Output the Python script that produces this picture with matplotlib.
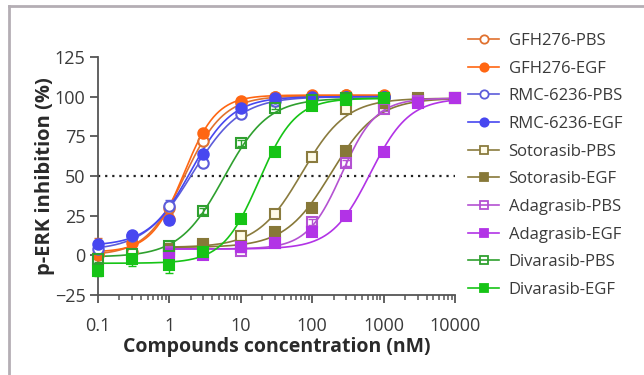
import numpy as np
import matplotlib
matplotlib.use('Agg')
import matplotlib.pyplot as plt
from matplotlib.lines import Line2D

plt.rcParams['font.family'] = ['Open Sans', 'DejaVu Sans']

# concentrations (nM)
conc_low = [0.1, 0.3, 1, 3, 10, 30, 100, 300, 1000]
conc_high = [1, 3, 10, 30, 100, 300, 1000, 3000, 10000]

labels = ['GFH276-PBS', 'GFH276-EGF', 'RMC-6236-PBS', 'RMC-6236-EGF',
          'Sotorasib-PBS', 'Sotorasib-EGF', 'Adagrasib-PBS', 'Adagrasib-EGF',
          'Divarasib-PBS', 'Divarasib-EGF']

gfh_pbs = [0, 2, 30, 72, 96, 100, 100, 101, 100]
gfh_egf = [1, 8, 23, 77, 97, 100, 101, 101, 101]
rmc_pbs = [4, 12, 31, 58, 89, 97, 99, 100, 100]
rmc_egf = [7, 13, 22, 64, 93, 99, 100, 100, 100]
sot_pbs = [3, 6, 12, 26, 62, 92, 97, 99, 99]
sot_egf = [4, 7, 6, 15, 30, 66, 96, 98, 99]
ada_pbs = [2, 1, 3, 8, 21, 58, 92, 97, 99]
ada_egf = [1, 0, 5, 8, 15, 25, 65, 96, 99]
div_pbs = [-2, 1, 6, 28, 71, 93, 98, 99, 99]
div_egf = [-10, -2, -6, 2, 23, 65, 94, 98, 99]

# small error bars (SD)
gfh_pbs_err = [11, 3, 2, 2, 1, 1, 1, 1, 1]
gfh_egf_err = [3, 2, 3, 2, 1, 1, 1, 1, 1]
rmc_pbs_err = [2, 2, 4, 2, 1, 1, 1, 1, 1]
rmc_egf_err = [2, 2, 2, 2, 1, 1, 1, 1, 1]
sot_pbs_err = [1, 1, 2, 2, 2, 1, 1, 1, 1]
sot_egf_err = [1, 1, 1, 1, 1, 1, 1, 1, 1]
ada_pbs_err = [1, 1, 1, 1, 2, 2, 1, 1, 1]
ada_egf_err = [1, 1, 1, 1, 1, 1, 1, 1, 1]
div_pbs_err = [2, 2, 2, 2, 2, 1, 1, 1, 1]
div_egf_err = [3, 5, 5, 2, 2, 1, 1, 1, 1]

# 4PL fit parameters: bottom, top, IC50 (nM), hill
fit_bottom = [0, 2, 3, 6, 5, 5, 4, 4, -1, -5]
fit_top = [100.5, 101, 100, 100, 99, 99, 99, 99, 99, 99]
fit_ic50 = [1.65, 1.6, 2.1, 2.0, 72, 185, 260, 650, 5.8, 18]
fit_hill = [1.6, 1.9, 1.3, 1.5, 1.4, 1.35, 1.8, 1.6, 1.4, 1.7]

colors = ['#E0712F', '#FF6612', '#5C5CDA', '#4747F0', '#8A7B3E',
          '#877838', '#B452D2', '#B233E6', '#2FA02F', '#16C416']
faces = ['white', '#FF6612', 'white', '#4747F0', '#FFFBE8',
         '#877838', 'none', '#B233E6', 'none', '#16C416']
markers = ['o', 'o', 'o', 'o', 's', 's', 's', 's', 's', 's']

values = [gfh_pbs, gfh_egf, rmc_pbs, rmc_egf, sot_pbs, sot_egf,
          ada_pbs, ada_egf, div_pbs, div_egf]
errors = [gfh_pbs_err, gfh_egf_err, rmc_pbs_err, rmc_egf_err, sot_pbs_err,
          sot_egf_err, ada_pbs_err, ada_egf_err, div_pbs_err, div_egf_err]
concs = [conc_low] * 4 + [conc_high] * 4 + [conc_low] * 2


def four_pl(x, bottom, top, ic50, hill):
    '''
    Fitted dose-response curve.
    '''
    return bottom + (top - bottom) / (1 + (ic50 / x) ** hill)


fig = plt.figure(figsize=(6.44, 3.75), dpi=100)
ax = fig.add_axes([0.152, 0.2133, 0.5545, 0.6347])

tick_col = '#3a3a3a'
handles = []
for i in range(len(labels)):
    c = concs[i]
    xs = np.logspace(np.log10(c[0]), np.log10(c[-1]), 300)
    ax.plot(xs, four_pl(xs, fit_bottom[i], fit_top[i], fit_ic50[i], fit_hill[i]),
            color=colors[i], lw=1.2, zorder=2, clip_on=False)
    ax.errorbar(c, values[i], yerr=errors[i], fmt='none', ecolor=colors[i],
                elinewidth=1, capsize=3, zorder=3, clip_on=False)
    ms = 7.5 if markers[i] == 'o' else 7
    ax.plot(c, values[i], linestyle='none', marker=markers[i], ms=ms,
            mfc=faces[i], mec=colors[i], mew=1.5, zorder=4, clip_on=False)
    handles.append(Line2D([], [], color=colors[i], lw=1.2, marker=markers[i],
                          ms=6, mfc=faces[i], mec=colors[i], mew=1.3))

ax.plot([0.1, 10000], [50, 50], linestyle=(0, (1, 2.2)), color='#222222', lw=1.6, zorder=1)

ax.set_xscale('log')
ax.set_xlim(0.1, 10000)
ax.set_ylim(-25, 125)
ax.set_yticks([-25, 0, 25, 50, 75, 100, 125])
ax.set_xticks([0.1, 1, 10, 100, 1000, 10000])
ax.set_xticklabels(['0.1', '1', '10', '100', '1000', '10000'])

for s in ['top', 'right']:
    ax.spines[s].set_visible(False)
for s in ['left', 'bottom']:
    ax.spines[s].set_color('#555555')
    ax.spines[s].set_linewidth(1.3)

ax.tick_params(which='major', length=6, width=1.3, color='#555555',
               labelsize=13, labelcolor=tick_col, pad=3)
ax.tick_params(which='minor', length=3.5, width=1.1, color='#555555')
ax.tick_params(axis='x', which='major', pad=10)

ax.set_xlabel('Compounds concentration (nM)', fontsize=14, fontweight='bold',
              color='#2a2a2a', labelpad=1)
ax.set_ylabel('p-ERK inhibition (%)', fontsize=14.5, fontweight='bold',
              color='#2a2a2a', labelpad=0)

fig.legend(handles, labels, loc='upper left', bbox_to_anchor=(0.716, 0.93),
           frameon=False, fontsize=12, handlelength=1.9, handletextpad=0.55,
           labelspacing=0.7, labelcolor='#3a3a3a', borderaxespad=0)

# light frame at the top and left edge of the panel
fig.add_artist(Line2D([0.0132, 0.0132], [0, 0.985], color='#b4aeb4', lw=2))
fig.add_artist(Line2D([0.0132, 1.0], [0.985, 0.985], color='#b4aeb4', lw=2))

plt.savefig('out.png', dpi=100)
